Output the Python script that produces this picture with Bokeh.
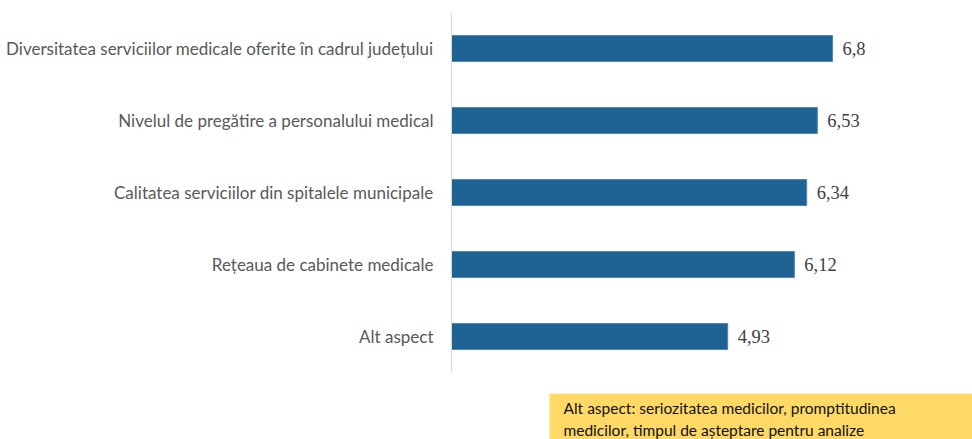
from bokeh.plotting import figure
from bokeh.layouts import column
from bokeh.models import FactorRange, Range1d, ColumnDataSource, LabelSet, Label, BoxAnnotation
from bokeh.embed import file_html
from bokeh.resources import INLINE

# Survey scores per health-service aspect (top to bottom)
aspects = [
    "Diversitatea serviciilor medicale oferite în cadrul județului",
    "Nivelul de pregătire a personalului medical",
    "Calitatea serviciilor din spitalele municipale",
    "Rețeaua de cabinete medicale",
    "Alt aspect",
]
scores = [6.8, 6.53, 6.34, 6.12, 4.93]
score_labels = [str(s).replace(".", ",") for s in scores]

note_text = ("Alt aspect: seriozitatea medicilor, promptitudinea\n"
             "medicilor, timpul de așteptare pentru analize")

FONT = "Lato"

source = ColumnDataSource(dict(aspect=aspects, score=scores, label=score_labels))

p = figure(
    width=972, height=393,
    y_range=FactorRange(factors=list(reversed(aspects))),
    x_range=Range1d(0, 9.3),
    output_backend="svg", toolbar_location=None,
    min_border_left=451, min_border_right=0,
    min_border_top=12, min_border_bottom=21,
)
p.outline_line_color = None
p.background_fill_color = "white"
p.border_fill_color = "white"
p.xgrid.visible = False
p.ygrid.visible = False
p.xaxis.visible = False

yax = p.yaxis[0]
yax.axis_line_color = "#D9D9D9"
yax.axis_line_width = 1
yax.major_tick_line_color = None
yax.minor_tick_line_color = None
yax.major_label_standoff = 12
yax.major_label_text_font = FONT
yax.major_label_text_font_size = "17px"
yax.major_label_text_color = "#595959"

p.hbar(y="aspect", right="score", left=0, height=0.36, source=source,
       fill_color="#1F6394", line_color="#4A83B3", line_width=1)

p.add_layout(LabelSet(
    x="score", y="aspect", text="label", source=source,
    x_offset=10, text_baseline="middle", text_align="left",
    text_font=FONT, text_font_size="18.5px", text_color="#404040",
))

# Explanatory note in a yellow box under the chart (pixel-like ranges)
note = figure(
    width=972, height=46,
    x_range=Range1d(0, 521), y_range=Range1d(46, 0),
    output_backend="svg", toolbar_location=None,
    min_border_left=451, min_border_right=0,
    min_border_top=0, min_border_bottom=0,
)
note.outline_line_color = None
note.background_fill_color = "white"
note.border_fill_color = "white"
note.xgrid.visible = False
note.ygrid.visible = False
note.xaxis.visible = False
note.yaxis.visible = False
note.add_layout(BoxAnnotation(
    left=98, right=521, top=0, bottom=46,
    fill_color="#FFD966", fill_alpha=1.0, line_color=None,
))
note.add_layout(Label(
    x=112, y=5, text=note_text, text_align="left", text_baseline="top",
    text_font=FONT, text_font_size="15.5px", text_color="#111111",
    text_line_height=1.25,
))

layout = column(p, note, spacing=0)
open("out.html", "w").write(file_html(layout, INLINE))
